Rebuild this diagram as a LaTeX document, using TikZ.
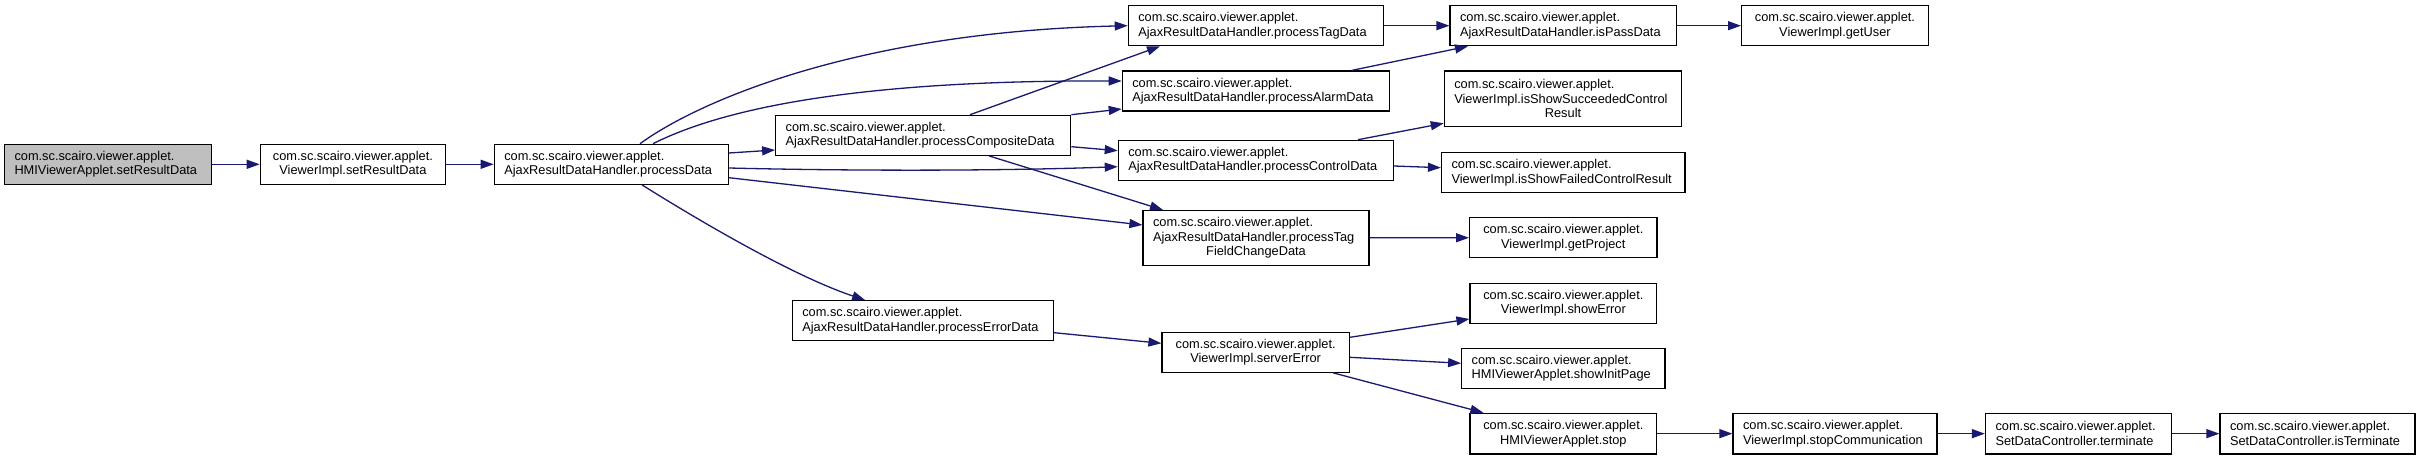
\documentclass[tikz,border=0pt]{standalone}
\usepackage{fontspec}
\setmainfont{Liberation Sans}
\usetikzlibrary{arrows.meta}
\definecolor{edgeblue}{HTML}{191970}
\definecolor{nodegray}{HTML}{BFBFBF}
\tikzset{
  fnbox/.style={draw=black, line width=1.2pt, fill=white, inner xsep=10pt, inner ysep=0pt,
    font=\fontsize{12.8}{14.5}\selectfont, text=black},
  rootbox/.style={fill=nodegray},
  call/.style={color=edgeblue, line width=1.3pt, -{Triangle[length=13pt,width=9pt]}}
}
% \gnode[style]{name}{x1}{y1}{x2}{y2}{align}{text}
\newcommand\gnode[8][]{%
  \pgfmathsetmacro\gw{#5-#3}\pgfmathsetmacro\gh{#6-#4}%
  \pgfmathsetmacro\gcx{(#3+#5)/2}\pgfmathsetmacro\gcy{(#4+#6)/2}%
  \pgfmathsetmacro\gtw{#5-#3-20}%
  \node[fnbox,#1,minimum width=\gw pt,minimum height=\gh pt,text width=\gtw pt,align=#7] (#2) at (\gcx,\gcy) {#8};}
\newcommand\midline[1]{\makebox[\linewidth][c]{#1}}
\begin{document}
\begin{tikzpicture}[x=1pt,y=-1pt]
\fill[white] (0,0) rectangle (2420,460);
\useasboundingbox (0,0) rectangle (2420,460);

\gnode[rootbox]{n1}{4.5}{144.3}{211.2}{184.3}{left}{com.sc.scairo.viewer.applet.\\HMIViewerApplet.setResultData}
\gnode{n2}{260.3}{144.3}{445.5}{184.3}{center}{com.sc.scairo.viewer.applet.\\ViewerImpl.setResultData}
\gnode{n3}{494.3}{144.3}{728.3}{184.3}{left}{com.sc.scairo.viewer.applet.\\AjaxResultDataHandler.processData}
\gnode{pcomp}{775.7}{115.3}{1070.7}{155.3}{left}{com.sc.scairo.viewer.applet.\\AjaxResultDataHandler.processCompositeData}
\gnode{perr}{792.3}{300.7}{1053.5}{340.7}{left}{com.sc.scairo.viewer.applet.\\AjaxResultDataHandler.processErrorData}
\gnode{ptag}{1128.3}{5.7}{1383.3}{45.7}{left}{com.sc.scairo.viewer.applet.\\AjaxResultDataHandler.processTagData}
\gnode{palarm}{1122.3}{71}{1389.3}{111}{left}{com.sc.scairo.viewer.applet.\\AjaxResultDataHandler.processAlarmData}
\gnode{pctrl}{1118.3}{140.3}{1393.3}{180.3}{left}{com.sc.scairo.viewer.applet.\\AjaxResultDataHandler.processControlData}
\gnode{ptfc}{1143}{210.5}{1369}{265.2}{left}{com.sc.scairo.viewer.applet.\\AjaxResultDataHandler.processTag\\\midline{FieldChangeData}}
\gnode{serr}{1162}{332.3}{1349.3}{372.3}{center}{com.sc.scairo.viewer.applet.\\ViewerImpl.serverError}
\gnode{ispass}{1450}{5.7}{1676.5}{45.7}{left}{com.sc.scairo.viewer.applet.\\AjaxResultDataHandler.isPassData}
\gnode{getuser}{1741.6}{5.7}{1928.3}{45.7}{center}{com.sc.scairo.viewer.applet.\\ViewerImpl.getUser}
\gnode{isss}{1444.3}{71}{1681.7}{126.7}{left}{com.sc.scairo.viewer.applet.\\ViewerImpl.isShowSucceededControl\\\midline{Result}}
\gnode{issf}{1441.5}{152.7}{1685}{192.7}{left}{com.sc.scairo.viewer.applet.\\ViewerImpl.isShowFailedControlResult}
\gnode{getproj}{1469.6}{217.7}{1657}{257.7}{center}{com.sc.scairo.viewer.applet.\\ViewerImpl.getProject}
\gnode{showerr}{1470}{283.3}{1656.7}{323.3}{center}{com.sc.scairo.viewer.applet.\\ViewerImpl.showError}
\gnode{showinit}{1461.7}{348.3}{1665}{388.3}{left}{com.sc.scairo.viewer.applet.\\HMIViewerApplet.showInitPage}
\gnode{stop}{1470}{413.3}{1656.7}{454}{center}{com.sc.scairo.viewer.applet.\\HMIViewerApplet.stop}
\gnode{stopcomm}{1733}{413.3}{1937}{454}{left}{com.sc.scairo.viewer.applet.\\ViewerImpl.stopCommunication}
\gnode{term}{1985.5}{413.3}{2171.6}{454}{left}{com.sc.scairo.viewer.applet.\\SetDataController.terminate}
\gnode{isterm}{2220}{413.3}{2415}{454}{left}{com.sc.scairo.viewer.applet.\\SetDataController.isTerminate}

\draw[call] (n1) -- (n2);
\draw[call] (n2) -- (n3);
\draw[call] ([xshift=28.7pt]n3.north) .. controls (700,100) and (860,32) .. (ptag.west);
\draw[call] ([xshift=41.7pt]n3.north) .. controls (720,110) and (850,80) .. ([yshift=10pt]palarm.west);
\draw[call] ([yshift=11.3pt]n3.east) -- ([yshift=-14.7pt]pcomp.west);
\draw[call] ([yshift=-3.7pt]n3.east) .. controls (850,171) and (1000,171) .. ([yshift=-6.4pt]pctrl.west);
\draw[call] ([yshift=-13.4pt]n3.east) -- ([yshift=12.85pt]ptfc.west);
\draw[call] ([xshift=30.7pt]n3.south) .. controls (690,215) and (790,275) .. ([xshift=-57.75pt]perr.north);
\draw[call] ([xshift=46.8pt]pcomp.north) -- ([xshift=-95.8pt]ptag.south);
\draw[call] (pcomp.north east) -- ([yshift=-18pt]palarm.west);
\draw[call] ([yshift=-11.4pt]pcomp.east) -- ([yshift=9.6pt]pctrl.west);
\draw[call] ([xshift=65.8pt]pcomp.south) -- ([xshift=-93pt]ptfc.north);
\draw[call] (ptag) -- (ispass);
\draw[call] ([xshift=95.9pt]palarm.north) -- ([xshift=-95.25pt]ispass.south);
\draw[call] (ispass) -- (getuser);
\draw[call] ([xshift=102.2pt]pctrl.north) -- ([yshift=-24.45pt]isss.west);
\draw[call] ([yshift=-5.7pt]pctrl.east) -- ([yshift=5pt]issf.west);
\draw[call] (ptfc) -- (getproj);
\draw[call] ([yshift=-12pt]perr.east) -- ([yshift=9pt]serr.west);
\draw[call] ([yshift=15pt]serr.east) -- ([yshift=-15.7pt]showerr.west);
\draw[call] ([yshift=-5pt]serr.east) -- ([yshift=5pt]showinit.west);
\draw[call] ([xshift=77.65pt]serr.south) -- ([xshift=-80pt]stop.north);
\draw[call] (stop) -- (stopcomm);
\draw[call] (stopcomm) -- (term);
\draw[call] (term) -- (isterm);
\end{tikzpicture}
\end{document}
